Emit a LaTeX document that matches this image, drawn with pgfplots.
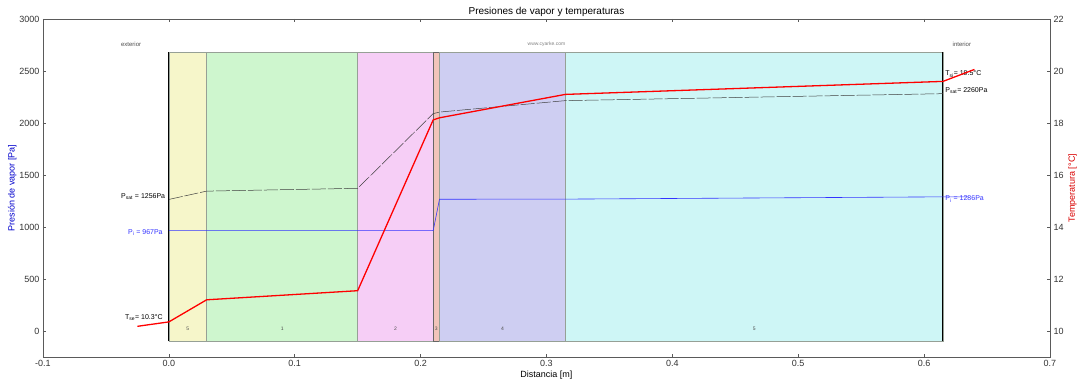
\documentclass[border=0pt]{standalone}
\usepackage{pgfplots}
\pgfplotsset{compat=1.18}
\usepackage{fontspec}
\setmainfont{Liberation Sans}
\definecolor{cyel}{RGB}{246,246,202}
\definecolor{cgre}{RGB}{206,246,206}
\definecolor{cpin}{RGB}{246,206,246}
\definecolor{csal}{RGB}{242,196,186}
\definecolor{cpur}{RGB}{206,206,242}
\definecolor{ccya}{RGB}{206,246,246}
\definecolor{cedge}{RGB}{150,160,150}
\definecolor{axgray}{RGB}{90,90,90}
\begin{document}
\begin{tikzpicture}
\useasboundingbox (0,0) rectangle (1079pt,380pt);
\pgfplotsset{every axis/.append style={
  scale only axis, width=1007pt, height=338pt,
  at={(43pt,23pt)}, anchor=south west,
  xmin=-0.1, xmax=0.7,
  tick align=inside,
  major tick length=3pt,
  tick style={axgray, line width=0.6pt},
  axis line style={axgray, line width=0.9pt},
  tick label style={font=\fontsize{9}{10}\selectfont, text=black!80},
  label style={font=\fontsize{9}{10}\selectfont},
  /pgf/number format/assume math mode=true,
}}
\begin{axis}[
  ymin=-250, ymax=3000,
  ytick={0,500,1000,1500,2000,2500,3000},
  yticklabel style={/pgf/number format/1000 sep={}},
  xtick={-0.1,0,0.1,0.2,0.3,0.4,0.5,0.6,0.7},
  xticklabel style={/pgf/number format/.cd, fixed, fixed zerofill, precision=1},
  ytick pos=left,
  xlabel={Distancia [m]},
  xlabel style={yshift=3pt},
  ylabel={\color{blue!80!black}Presión de vapor [Pa]},
  ylabel style={yshift=-4pt},
  title={Presiones de vapor y temperaturas},
  title style={font=\fontsize{10}{11}\selectfont, yshift=-7pt},
  clip=false,
]
% layers
\addplot[fill=cyel, draw=cedge, line width=0.6pt] coordinates {(0,-100) (0.03,-100) (0.03,2680) (0,2680)} -- cycle;
\addplot[fill=cgre, draw=cedge, line width=0.6pt] coordinates {(0.03,-100) (0.15,-100) (0.15,2680) (0.03,2680)} -- cycle;
\addplot[fill=cpin, draw=cedge, line width=0.6pt] coordinates {(0.15,-100) (0.21,-100) (0.21,2680) (0.15,2680)} -- cycle;
\addplot[fill=csal, draw=gray!80!black, line width=0.6pt] coordinates {(0.21,-100) (0.215,-100) (0.215,2680) (0.21,2680)} -- cycle;
\addplot[fill=cpur, draw=cedge, line width=0.6pt] coordinates {(0.215,-100) (0.315,-100) (0.315,2680) (0.215,2680)} -- cycle;
\addplot[fill=ccya, draw=cedge, line width=0.6pt] coordinates {(0.315,-100) (0.615,-100) (0.615,2680) (0.315,2680)} -- cycle;
\addplot[black, line width=1pt] coordinates {(0,-100) (0,2680)};
\addplot[black, line width=1pt] coordinates {(0.615,-100) (0.615,2680)};
% saturation pressure
\addplot[black!75, line width=0.5pt, dash pattern=on 14pt off 2pt] coordinates {
 (0,1265) (0.03,1345) (0.15,1372) (0.21,2090) (0.215,2105) (0.315,2215) (0.615,2282)};
% vapour pressure
\addplot[blue!80, line width=0.6pt] coordinates {
 (0,965) (0.21,965) (0.215,1267) (0.315,1268) (0.615,1290) (0.635,1290)};
% texts
\node[font=\fontsize{6}{7}\selectfont, text=black!70] at (axis cs:-0.03,2760) {exterior};
\node[font=\fontsize{6}{7}\selectfont, text=black!70] at (axis cs:0.63,2760) {interior};
\node[font=\fontsize{5}{6}\selectfont, text=black!50] at (axis cs:0.30,2760) {www.cyarke.com};
\foreach \xx/\ll in {0.015/5,0.09/1,0.18/2,0.2125/3,0.265/4,0.465/5}{
  \edef\tmp{\noexpand\node[font=\noexpand\fontsize{5}{6}\noexpand\selectfont, text=black!70] at (axis cs:\xx,20) {\ll};}\tmp
}
\node[anchor=east, font=\fontsize{7}{8}\selectfont, inner sep=1pt] at (axis cs:-0.002,1290) {P$_{\mathrm{sat}}$ = 1256Pa};
\node[anchor=east, font=\fontsize{7}{8}\selectfont, inner sep=1pt, text=blue!80] at (axis cs:-0.004,950) {P$_{\mathrm{i}}$ = 967Pa};
\node[anchor=east, font=\fontsize{7}{8}\selectfont, inner sep=1pt] at (axis cs:-0.004,125) {T$_{\mathrm{se}}$= 10.3°C};
\node[anchor=west, font=\fontsize{7}{8}\selectfont, inner sep=1pt] at (axis cs:0.616,2470) {T$_{\mathrm{si}}$= 19.5°C};
\node[anchor=west, font=\fontsize{7}{8}\selectfont, inner sep=1pt] at (axis cs:0.616,2312) {P$_{\mathrm{sat}}$= 2260Pa};
\node[anchor=west, font=\fontsize{7}{8}\selectfont, inner sep=1pt, text=blue!80] at (axis cs:0.616,1268) {P$_{\mathrm{i}}$ = 1286Pa};
\end{axis}
\begin{axis}[
  ymin=9, ymax=22,
  ytick={10,12,14,16,18,20,22},
  axis x line=none,
  axis y line*=right,
  ylabel={\color{red!85!black}Temperatura [°C]},
  ylabel style={yshift=2pt},
]
\addplot[red, line width=1.3pt] coordinates {
 (-0.025,10.18) (0,10.35) (0.03,11.2) (0.15,11.55) (0.21,18.12) (0.215,18.2) (0.315,19.1) (0.615,19.6) (0.64,20.06)};
\end{axis}
\end{tikzpicture}
\end{document}
